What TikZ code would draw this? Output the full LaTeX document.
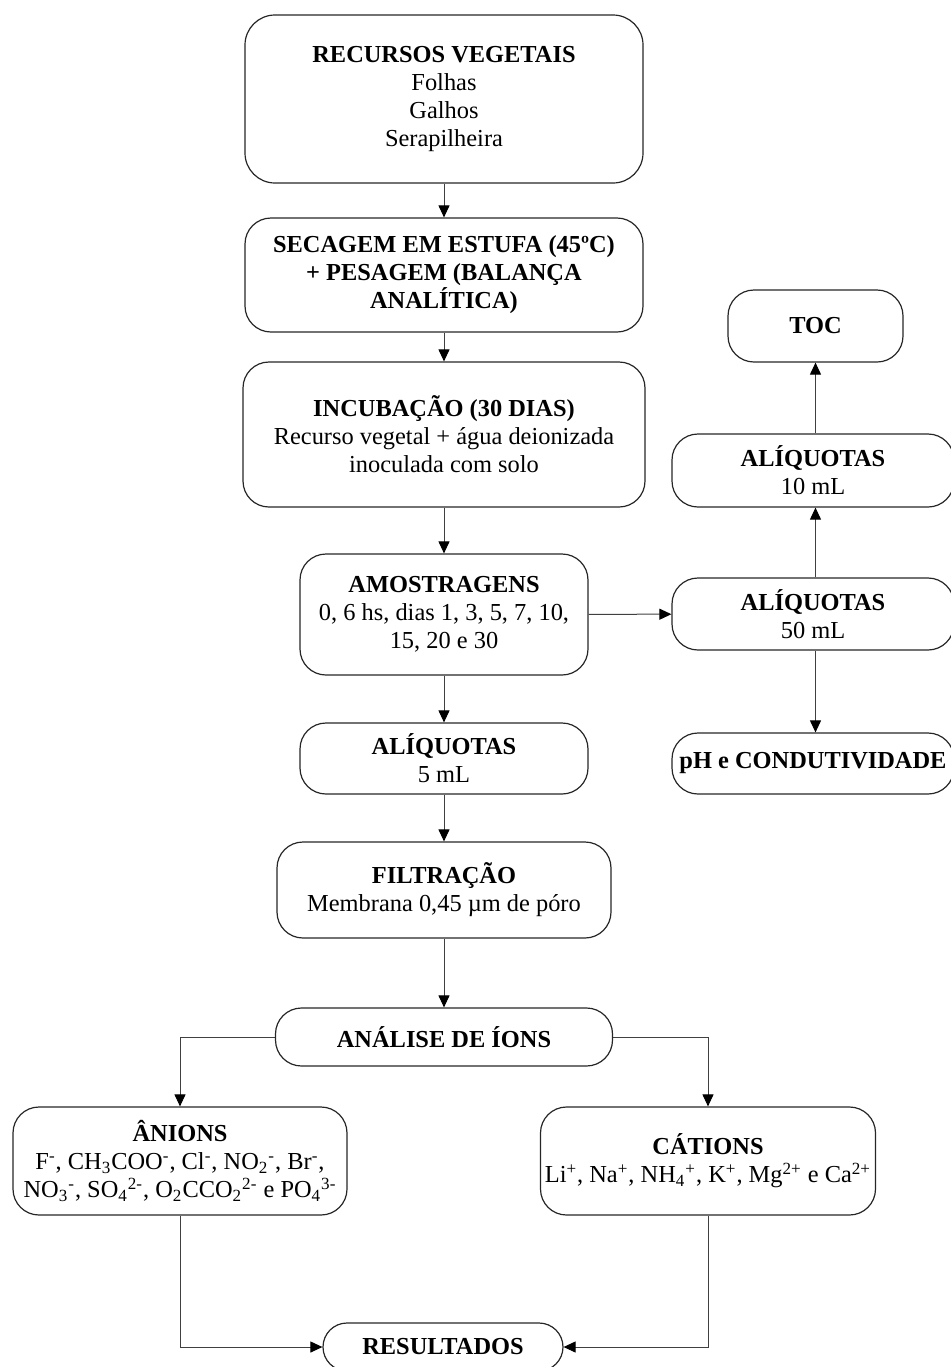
\documentclass[tikz,border=0pt]{standalone}
\usepackage{fontspec}
\setmainfont{Liberation Serif}
\usetikzlibrary{arrows.meta}
\usetikzlibrary{positioning}

\begin{document}
\begin{tikzpicture}[x=0.5pt, y=-0.5pt,
  font=\fontsize{12.2}{14}\selectfont,
  stage/.style={draw=black!85, line width=0.6pt, rounded corners=13pt, align=center, inner sep=1pt},
  flow/.style={-{Triangle[length=6pt, width=5.5pt, color=black]}, line width=0.5pt, draw=black!75},
  ]
  \useasboundingbox (0, 0) rectangle (950, 1367);

  % main column
  \node [stage, rounded corners=15pt, minimum width=199pt, minimum height=84pt] (recursos) at (444, 99)
    {\textbf{RECURSOS VEGETAIS}\\Folhas\\Galhos\\Serapilheira};
  \node [stage, minimum width=199pt, minimum height=57pt] (secagem) at (444, 275)
    {\textbf{SECAGEM EM ESTUFA (45ºC)}\\\textbf{+ PESAGEM (BALANÇA}\\\textbf{ANALÍTICA)}};
  \node [stage, minimum width=201pt, minimum height=72.5pt] (incubacao) at (444, 434.5)
    {\textbf{INCUBAÇÃO (30 DIAS)}\\Recurso vegetal + água deionizada\\inoculada com solo};
  \node [stage, minimum width=144pt, minimum height=60.5pt] (amostragens) at (444, 614.5)
    {\textbf{AMOSTRAGENS}\\0, 6 hs, dias 1, 3, 5, 7, 10,\\15, 20 e 30};
  \node [stage, minimum width=144pt, minimum height=35.5pt] (al5) at (444, 758.5)
    {\textbf{ALÍQUOTAS}\\5 mL};
  \node [stage, minimum width=167pt, minimum height=48pt] (filtracao) at (444, 890)
    {\textbf{FILTRAÇÃO}\\Membrana 0,45 µm de póro};
  \node [stage, minimum width=168.5pt, minimum height=29pt] (analise) at (444, 1037)
    {\textbf{ANÁLISE DE ÍONS}};

  % ions
  \node [stage, minimum width=167pt, minimum height=54pt] (anions) at (180, 1161)
    {\textbf{ÂNIONS}\\F\textsuperscript{-}, CH\textsubscript{3}COO\textsuperscript{-}, Cl\textsuperscript{-}, NO\textsubscript{2}\textsuperscript{-}, Br\textsuperscript{-},\\NO\textsubscript{3}\textsuperscript{-}, SO\textsubscript{4}\textsuperscript{2-}, O\textsubscript{2}CCO\textsubscript{2}\textsuperscript{2-} e PO\textsubscript{4}\textsuperscript{3-}};
  \node [stage, minimum width=167.5pt, minimum height=54pt] (cations) at (708, 1161)
    {\textbf{CÁTIONS}\\Li\textsuperscript{+}, Na\textsuperscript{+}, NH\textsubscript{4}\textsuperscript{+}, K\textsuperscript{+}, Mg\textsuperscript{2+} e Ca\textsuperscript{2+}};
  \node [stage, rounded corners=12pt, minimum width=120pt, minimum height=24pt] (resultados) at (443, 1347)
    {\textbf{RESULTADOS}};

  % right column
  \node [stage, minimum width=87.5pt, minimum height=36pt] (toc) at (815.5, 326) {\textbf{TOC}};
  \node [stage, minimum width=141pt, minimum height=36.5pt] (al10) at (813, 470.5)
    {\textbf{ALÍQUOTAS}\\10 mL};
  \node [stage, minimum width=141pt, minimum height=36pt] (al50) at (813, 614)
    {\textbf{ALÍQUOTAS}\\50 mL};
  \node [stage, minimum width=141pt, minimum height=30.5pt] (ph) at (813, 763.5)
    {\textbf{pH e CONDUTIVIDADE}};

  % arrows
  \draw [flow] (recursos) -- (secagem);
  \draw [flow] (secagem) -- (incubacao);
  \draw [flow] (incubacao) -- (amostragens);
  \draw [flow] (amostragens) -- (al5);
  \draw [flow] (al5) -- (filtracao);
  \draw [flow] (filtracao) -- (analise);
  \draw [flow] (amostragens) -- (al50);
  \draw [flow] (al50.north -| toc) -- (al10.south -| toc);
  \draw [flow] (al10.north -| toc) -- (toc);
  \draw [flow] (al50.south -| toc) -- (ph.north -| toc);
  \draw [flow] (analise.west) -| (anions.north);
  \draw [flow] (analise.east) -| (cations.north);
  \draw [flow] (anions.south) |- (resultados.west);
  \draw [flow] (cations.south) |- (resultados.east);
\end{tikzpicture}
\end{document}
